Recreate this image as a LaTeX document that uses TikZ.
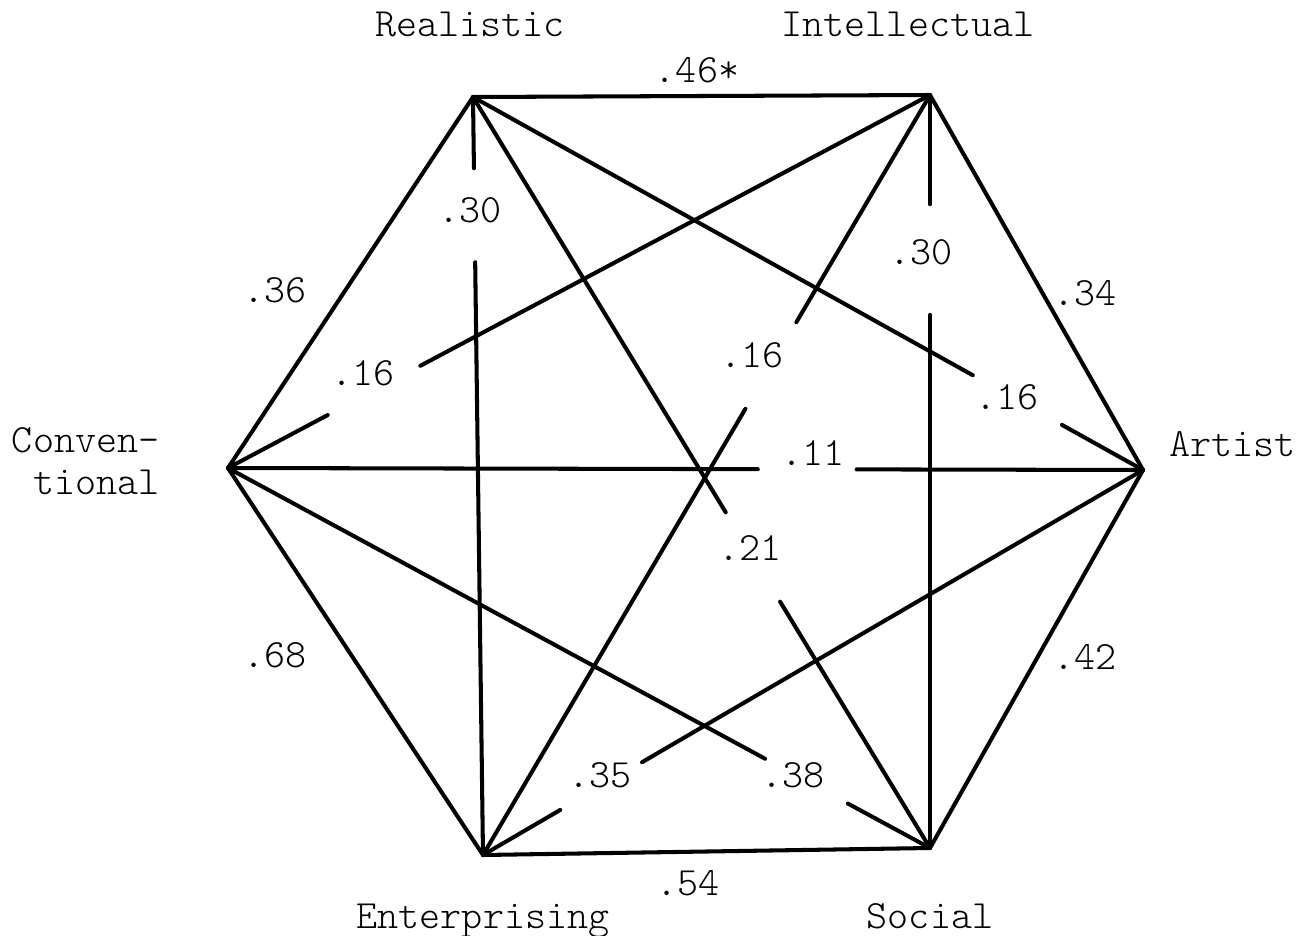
\documentclass[tikz,border=0pt]{standalone}
\usepackage{tikz}
\usetikzlibrary{calc}
\tikzset{
  edge/.style={draw=black, line width=1.15pt, line cap=round, line join=round},
  trait/.style={font=\fontsize{11.4}{12}\selectfont\ttfamily\fontseries{l}\selectfont, inner sep=0pt},
  corr/.style={font=\fontsize{11.4}{12}\selectfont\ttfamily\fontseries{l}\selectfont, inner sep=1pt}
}
\begin{document}
\begin{tikzpicture}[x=0.01cm, y=-0.01cm]
  \useasboundingbox (0,0) rectangle (1299,936);
  % corners of the hexagon
  \coordinate (R) at (473,97);
  \coordinate (I) at (930,95);
  \coordinate (A) at (1143,470);
  \coordinate (S) at (930,848);
  \coordinate (E) at (483,855);
  \coordinate (C) at (228,468);

  % type names
  \node[trait, anchor=base] (nR) at (470,36) {Realistic};
  \node[trait, anchor=base] (nI) at (908,36) {Intellectual};
  \node[trait, anchor=base west] (nA) at (1169,456) {Artist};
  \node[trait, anchor=base] (nS) at (930,928) {Social};
  \node[trait, anchor=base] (nE) at (483,928) {Enterprising};
  \node[trait, anchor=east, align=right] (nC) at (160,461) {Conven-\\tional};

  % outer edges
  \draw[edge] (R) -- (I) -- (A) -- (S) -- (E) -- (C) -- cycle;

  % cross edges, each broken where its value sits
  \foreach \a/\b/\p/\q in {
    R/E/.094/.218, I/S/.145/.292, C/A/.579/.687,
    C/I/.142/.274, R/A/.746/.879, I/E/.299/.413,
    R/S/.553/.672, E/A/.117/.241, C/S/.765/.883} {
    \path (\a) -- coordinate[pos=\p] (\a\b-1) coordinate[pos=\q] (\a\b-2) (\b);
    \draw[edge] (\a) -- (\a\b-1);
    \draw[edge] (\a\b-2) -- (\b);
  }

  % values
  \foreach \x/\y/\v/\n in {
    697/70/.46*/vRI, 275/290/.36/vRC, 1085/293/.34/vIA,
    275/655/.68/vEC, 1085/657/.42/vAS, 688/883/.54/vES,
    470/210/.30/vRE, 921/252/.30/vIS, 813/453/.11/vCA,
    363/373/.16/vCI, 1007/397/.16/vRA, 752/355/.16/vIE,
    750/548/.21/vRS, 600/775/.35/vEA, 793/775/.38/vCS} {
    \node[corr] (\n) at (\x,\y) {\v};
  }
\end{tikzpicture}
\end{document}
